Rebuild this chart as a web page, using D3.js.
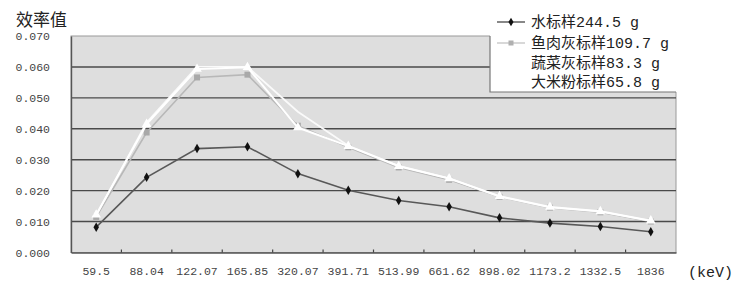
<!DOCTYPE html>
<html>
<head>
<meta charset="utf-8">
<script src="https://cdn.jsdelivr.net/npm/d3@7"></script>
<style>
  body { margin: 0; background: #fff; }
  svg { display: block; }
</style>
</head>
<body>
<script>
var energies = ["59.5", "88.04", "122.07", "165.85", "320.07", "391.71", "513.99", "661.62", "898.02", "1173.2", "1332.5", "1836"];
var water = [0.0082, 0.0243, 0.0336, 0.0342, 0.0255, 0.0201, 0.0168, 0.0148, 0.0112, 0.0095, 0.0084, 0.0067];
var fishAsh = [0.0115, 0.0388, 0.0566, 0.0575, 0.0410, 0.0340, 0.0275, 0.0235, 0.0180, 0.0145, 0.0130, 0.0100];
var vegAsh = [0.0122, 0.0415, 0.0593, 0.0599, 0.0404, 0.0344, 0.0279, 0.0239, 0.0182, 0.0147, 0.0133, 0.0103];
var riceFlour = [0.0120, 0.0420, 0.0600, 0.0600, 0.0455, 0.0345, 0.0280, 0.0240, 0.0181, 0.0146, 0.0132, 0.0102];
var seriesNames = ["水标样244.5 g", "鱼肉灰标样109.7 g", "蔬菜灰标样83.3 g", "大米粉标样65.8 g"];
var yTicks = [0, 0.01, 0.02, 0.03, 0.04, 0.05, 0.06, 0.07];

var w = 744, h = 286;
var plotLeft = 71, plotRight = 676, plotTop = 36, plotBottom = 252.5;

var svg = d3.select("body").append("svg")
    .attr("width", w)
    .attr("height", h);

var x = d3.scaleBand().domain(energies).range([plotLeft, plotRight]);
var y = d3.scaleLinear().domain([0, 0.07]).range([plotBottom, plotTop]);
var cx = function (d, i) { return x(energies[i]) + x.bandwidth() / 2; };

// plot area
svg.append("rect")
    .attr("x", plotLeft).attr("y", plotTop)
    .attr("width", plotRight - plotLeft).attr("height", plotBottom - plotTop)
    .attr("fill", "#dedede")
    .attr("stroke", "#9a9a9a");

// gridlines
svg.append("g").selectAll("line")
    .data(yTicks.slice(1, -1))
    .enter().append("line")
    .attr("x1", plotLeft).attr("x2", plotRight)
    .attr("y1", function (d) { return y(d); })
    .attr("y2", function (d) { return y(d); })
    .attr("stroke", "#4a4a4a")
    .attr("stroke-width", 1.4);

// axes
var yAxis = svg.append("g")
    .attr("transform", "translate(" + plotLeft + ",0)")
    .call(d3.axisLeft(y).tickValues(yTicks).tickFormat(d3.format(".3f")).tickSize(0).tickPadding(21));
yAxis.select(".domain").attr("stroke", "#555").attr("stroke-width", 1.4);
yAxis.selectAll("text")
    .attr("font-family", "Liberation Mono, monospace")
    .attr("font-size", 11.5)
    .attr("fill", "#444");

var xAxis = svg.append("g")
    .attr("transform", "translate(0," + plotBottom + ")")
    .call(d3.axisBottom(x).tickSize(0).tickPadding(14));
xAxis.select(".domain").attr("stroke", "#555").attr("stroke-width", 1.4);
xAxis.selectAll("text")
    .attr("font-family", "Liberation Mono, monospace")
    .attr("font-size", 11.5)
    .attr("fill", "#444");

// small category boundary ticks
svg.append("g").selectAll("line")
    .data(energies.slice(1))
    .enter().append("line")
    .attr("x1", function (d) { return x(d); })
    .attr("x2", function (d) { return x(d); })
    .attr("y1", plotBottom).attr("y2", plotBottom - 3)
    .attr("stroke", "#444").attr("stroke-width", 1.2);

var line = d3.line()
    .x(cx)
    .y(function (d) { return y(d); });

// series 1: water
svg.append("path").datum(water)
    .attr("d", line).attr("fill", "none")
    .attr("stroke", "#585858").attr("stroke-width", 1.6);
svg.append("g").selectAll("path")
    .data(water).enter().append("path")
    .attr("transform", function (d, i) { return "translate(" + cx(d, i) + "," + y(d) + ")"; })
    .attr("d", d3.symbol().type(d3.symbolDiamond).size(26))
    .attr("fill", "#111");

// series 2: fish ash
svg.append("path").datum(fishAsh)
    .attr("d", line).attr("fill", "none")
    .attr("stroke", "#b8b8b8").attr("stroke-width", 1.6);
svg.append("g").selectAll("rect")
    .data(fishAsh).enter().append("rect")
    .attr("x", function (d, i) { return cx(d, i) - 3; })
    .attr("y", function (d) { return y(d) - 3; })
    .attr("width", 6).attr("height", 6)
    .attr("fill", "#a9a9a9");

// series 4: rice flour (white line)
svg.append("path").datum(riceFlour)
    .attr("d", line).attr("fill", "none")
    .attr("stroke", "#fafafa").attr("stroke-width", 1.8);

// series 3: vegetable ash (white triangles)
svg.append("path").datum(vegAsh)
    .attr("d", line).attr("fill", "none")
    .attr("stroke", "#ffffff").attr("stroke-width", 2);
svg.append("g").selectAll("path")
    .data(vegAsh).enter().append("path")
    .attr("transform", function (d, i) { return "translate(" + cx(d, i) + "," + y(d) + ")"; })
    .attr("d", d3.symbol().type(d3.symbolTriangle).size(40))
    .attr("fill", "#ffffff");

// legend
var lg = svg.append("g");
lg.append("rect")
    .attr("x", 490).attr("y", 6)
    .attr("width", plotRight - 490 + 1).attr("height", 86)
    .attr("fill", "#fff");
lg.append("path")
    .attr("d", "M490," + plotTop + "V92H" + plotRight)
    .attr("fill", "none")
    .attr("stroke", "#777").attr("stroke-width", 1.2);
var rowY = [22, 43, 63, 82];
var legendLine = ["#555", "#c8c8c8", "#fff", "#fff"];
lg.selectAll("line.key")
    .data(seriesNames).enter().append("line")
    .attr("class", "key")
    .attr("x1", 497).attr("x2", 525)
    .attr("y1", function (d, i) { return rowY[i]; })
    .attr("y2", function (d, i) { return rowY[i]; })
    .attr("stroke", function (d, i) { return legendLine[i]; })
    .attr("stroke-width", 1.4);
lg.append("path")
    .attr("transform", "translate(511," + rowY[0] + ")")
    .attr("d", d3.symbol().type(d3.symbolDiamond).size(22))
    .attr("fill", "#111");
lg.append("rect")
    .attr("x", 508.5).attr("y", rowY[1] - 2.5)
    .attr("width", 5).attr("height", 5)
    .attr("fill", "#b0b0b0");
lg.selectAll("text")
    .data(seriesNames).enter().append("text")
    .attr("x", 531)
    .attr("y", function (d, i) { return rowY[i] + 5; })
    .attr("font-family", "Liberation Mono, Noto Sans CJK SC, monospace")
    .attr("font-size", 15)
    .attr("fill", "#222")
    .text(function (d) { return d; });

// titles
svg.append("text")
    .attr("x", 16).attr("y", 26)
    .attr("font-family", "Noto Sans CJK SC, sans-serif")
    .attr("font-size", 17)
    .attr("fill", "#222")
    .text("效率值");

svg.append("text")
    .attr("x", 688).attr("y", 277)
    .attr("font-family", "Liberation Mono, monospace")
    .attr("font-size", 15)
    .attr("fill", "#222")
    .text("(keV)");
</script>
</body>
</html>
